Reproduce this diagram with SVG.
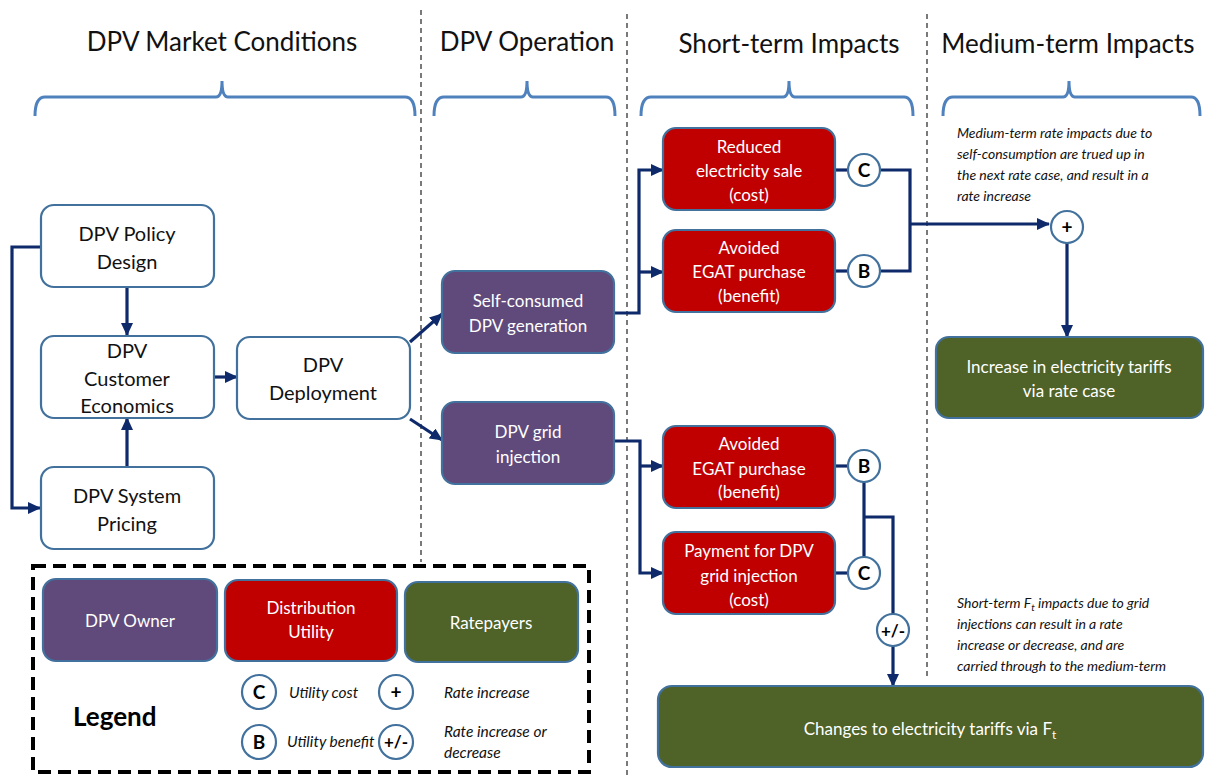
<svg xmlns="http://www.w3.org/2000/svg" width="1206" height="776" viewBox="0 0 1206 776">
<defs>
<marker id="ah" markerWidth="13" markerHeight="12" refX="12" refY="6" orient="auto" markerUnits="userSpaceOnUse"><path d="M0,0 L13,6 L0,12 z" fill="#0f2a6b"/></marker>
<style>
.hdr{font-family:Lato,"Open Sans",sans-serif;font-size:26px;fill:#111;text-anchor:middle}
.brace{fill:none;stroke:#4f81bd;stroke-width:3}
.sep{stroke:#333;stroke-width:1.3;stroke-dasharray:5,4}
.wbox{fill:#fff;stroke:#41719c;stroke-width:2.2}
.pbox{fill:#604a7b;stroke:#41719c;stroke-width:2.2}
.rbox{fill:#c00000;stroke:#41719c;stroke-width:2.2}
.gbox{fill:#4f6228;stroke:#41719c;stroke-width:2.2}
.wt{font-family:Lato,"Open Sans",sans-serif;font-size:20px;fill:#111;text-anchor:middle}
.lt{font-family:Lato,"Open Sans",sans-serif;font-size:17px;fill:#fff;text-anchor:middle}
.circ{fill:#fff;stroke:#41719c;stroke-width:2.2}
.ct{font-family:Lato,"Open Sans",sans-serif;font-size:19px;font-weight:bold;fill:#000;text-anchor:middle}
.note{font-family:Lato,"Open Sans",sans-serif;font-size:14px;font-style:italic;fill:#111}
.conn{fill:none;stroke:#0f2a6b;stroke-width:3.2}
.leg{font-family:Lato,"Open Sans",sans-serif;font-size:15.5px;font-style:italic;fill:#111}
</style>
</defs>
<rect width="1206" height="776" fill="#fff"/>

<g id="headers">
<text class="hdr" x="222" y="51">DPV Market Conditions</text>
<text class="hdr" x="527" y="51">DPV Operation</text>
<text class="hdr" x="789" y="53">Short-term Impacts</text>
<text class="hdr" x="1068" y="53">Medium-term Impacts</text>
<path class="brace" d="M35,116 Q35,97 45,97 L216,97 Q222,97 222,81 Q222,97 228,97 L405,97 Q415,97 415,116"/>
<path class="brace" d="M434,116 Q434,97 444,97 L521,97 Q527,97 527,81 Q527,97 533,97 L606,97 Q615,97 615,116"/>
<path class="brace" d="M641,116 Q641,97 651,97 L783,97 Q789,97 789,81 Q789,97 795,97 L904,97 Q913,97 913,116"/>
<path class="brace" d="M943,116 Q943,97 953,97 L1063,97 Q1069,97 1069,81 Q1069,97 1075,97 L1191,97 Q1200,97 1200,116"/>
</g>

<g id="separators">
<line class="sep" x1="421" y1="10" x2="421" y2="562"/>
<line class="sep" x1="627" y1="14" x2="627" y2="776"/>
<line class="sep" x1="927" y1="14" x2="927" y2="680"/>
</g>

<g id="connectors">
<path class="conn" d="M127,287 V335" marker-end="url(#ah)"/>
<path class="conn" d="M127,467 V418" marker-end="url(#ah)"/>
<path class="conn" d="M214,377 H237" marker-end="url(#ah)"/>
<path class="conn" d="M41,247 H12 V508 H40" marker-end="url(#ah)"/>
<path class="conn" d="M410,342 L442,314" marker-end="url(#ah)"/>
<path class="conn" d="M410,419 L442,440" marker-end="url(#ah)"/>
<path class="conn" d="M614,313 H639 V170 H663" marker-end="url(#ah)"/>
<path class="conn" d="M639,272 H663" marker-end="url(#ah)"/>
<path class="conn" d="M835,170 H848"/>
<path class="conn" d="M835,271 H848"/>
<path class="conn" d="M880,170 H910 V271 H880"/>
<path class="conn" d="M910,224 H1049" marker-end="url(#ah)"/>
<path class="conn" d="M1067,243 V337" marker-end="url(#ah)"/>
<path class="conn" d="M614,441 H640 V573 H663" marker-end="url(#ah)"/>
<path class="conn" d="M640,466 H663" marker-end="url(#ah)"/>
<path class="conn" d="M835,466 H848"/>
<path class="conn" d="M835,573 H848"/>
<path class="conn" d="M864,482 V557"/>
<path class="conn" d="M864,517 H893 V614"/>
<path class="conn" d="M893,646 V686" marker-end="url(#ah)"/>
</g>

<g id="n-policy"><rect class="wbox" x="41" y="205" width="173" height="82" rx="13"/><text class="wt" x="127" y="241">DPV Policy</text><text class="wt" x="127" y="269">Design</text></g>
<g id="n-customer"><rect class="wbox" x="41" y="336" width="173" height="82" rx="13"/><text class="wt" x="127" y="358">DPV</text><text class="wt" x="127" y="386">Customer</text><text class="wt" x="127" y="413">Economics</text></g>
<g id="n-pricing"><rect class="wbox" x="41" y="467" width="173" height="82" rx="13"/><text class="wt" x="127" y="503">DPV System</text><text class="wt" x="127" y="531">Pricing</text></g>
<g id="n-deploy"><rect class="wbox" x="237" y="337" width="173" height="82" rx="13"/><text class="wt" x="323" y="372">DPV</text><text class="wt" x="323" y="400">Deployment</text></g>

<g id="n-self"><rect class="pbox" x="442" y="271" width="172" height="82" rx="13"/><text class="lt" x="528" y="307">Self-consumed</text><text class="lt" x="528" y="332">DPV generation</text></g>
<g id="n-grid"><rect class="pbox" x="442" y="402" width="172" height="82" rx="13"/><text class="lt" x="528" y="438">DPV grid</text><text class="lt" x="528" y="463">injection</text></g>

<g id="n-reduced"><rect class="rbox" x="663" y="128" width="172" height="82" rx="13"/><text class="lt" x="749" y="153">Reduced</text><text class="lt" x="749" y="177">electricity sale</text><text class="lt" x="749" y="201">(cost)</text></g>
<g id="n-avoided1"><rect class="rbox" x="663" y="230" width="172" height="82" rx="13"/><text class="lt" x="749" y="254">Avoided</text><text class="lt" x="749" y="278">EGAT purchase</text><text class="lt" x="749" y="302">(benefit)</text></g>
<g id="n-avoided2"><rect class="rbox" x="663" y="426" width="172" height="82" rx="13"/><text class="lt" x="749" y="450">Avoided</text><text class="lt" x="749" y="475">EGAT purchase</text><text class="lt" x="749" y="498">(benefit)</text></g>
<g id="n-payment"><rect class="rbox" x="663" y="532" width="172" height="82" rx="13"/><text class="lt" x="749" y="557">Payment for DPV</text><text class="lt" x="749" y="582">grid injection</text><text class="lt" x="749" y="606">(cost)</text></g>

<g id="c-c1"><circle class="circ" cx="864" cy="170" r="16"/><text class="ct" x="864" y="177">C</text></g>
<g id="c-b1"><circle class="circ" cx="864" cy="271" r="16"/><text class="ct" x="864" y="278">B</text></g>
<g id="c-b2"><circle class="circ" cx="864" cy="466" r="16"/><text class="ct" x="864" y="473">B</text></g>
<g id="c-c2"><circle class="circ" cx="864" cy="573" r="16"/><text class="ct" x="864" y="580">C</text></g>
<g id="c-plus"><circle class="circ" cx="1067" cy="227" r="16"/><text class="ct" x="1067" y="234">+</text></g>
<g id="c-pm"><circle class="circ" cx="893" cy="630" r="16"/><text class="ct" x="893" y="637" style="font-size:17px">+/-</text></g>

<g id="n-increase"><rect class="gbox" x="936" y="337" width="267" height="81" rx="13"/><text class="lt" x="1069" y="373">Increase in electricity tariffs</text><text class="lt" x="1069" y="397">via rate case</text></g>
<g id="n-changes"><rect class="gbox" x="658" y="686" width="545" height="81" rx="14"/><text class="lt" x="930" y="735">Changes to electricity tariffs via F<tspan dy="4" style="font-size:12px">t</tspan></text></g>

<g id="note-medium">
<text class="note" x="957" y="138">Medium-term rate impacts due to</text>
<text class="note" x="957" y="159">self-consumption are trued up in</text>
<text class="note" x="957" y="180">the next rate case, and result in a</text>
<text class="note" x="957" y="201">rate increase</text>
</g>
<g id="note-short">
<text class="note" x="957" y="608">Short-term F<tspan dy="3" style="font-size:10px">t</tspan><tspan dy="-3"> impacts due to grid</tspan></text>
<text class="note" x="957" y="629">injections can result in a rate</text>
<text class="note" x="957" y="650">increase or decrease, and are</text>
<text class="note" x="957" y="671">carried through to the medium-term</text>
</g>

<g id="legend">
<rect x="33" y="566" width="556" height="206" fill="none" stroke="#000" stroke-width="4" stroke-dasharray="13,7"/>
<rect class="pbox" x="43" y="579" width="174" height="82" rx="13"/><text class="lt" x="130" y="627">DPV Owner</text>
<rect class="rbox" x="225" y="580" width="172" height="81" rx="13"/><text class="lt" x="311" y="614">Distribution</text><text class="lt" x="311" y="638">Utility</text>
<rect class="gbox" x="405" y="582" width="173" height="80" rx="13"/><text class="lt" x="491" y="629">Ratepayers</text>
<text x="73" y="726" style="font-family:Lato,'Open Sans',sans-serif;font-size:26px;font-weight:bold;fill:#000">Legend</text>
<circle class="circ" cx="259" cy="692" r="17"/><text class="ct" x="259" y="699">C</text>
<text class="leg" x="289" y="698">Utility cost</text>
<circle class="circ" cx="259" cy="742" r="17"/><text class="ct" x="259" y="749">B</text>
<text class="leg" x="287" y="747">Utility benefit</text>
<circle class="circ" cx="396" cy="692" r="17"/><text class="ct" x="396" y="699">+</text>
<text class="leg" x="444" y="698">Rate increase</text>
<circle class="circ" cx="396" cy="742" r="17"/><text class="ct" x="396" y="748" style="font-size:17px">+/-</text>
<text class="leg" x="444" y="737">Rate increase or</text>
<text class="leg" x="444" y="758">decrease</text>
</g>
</svg>
